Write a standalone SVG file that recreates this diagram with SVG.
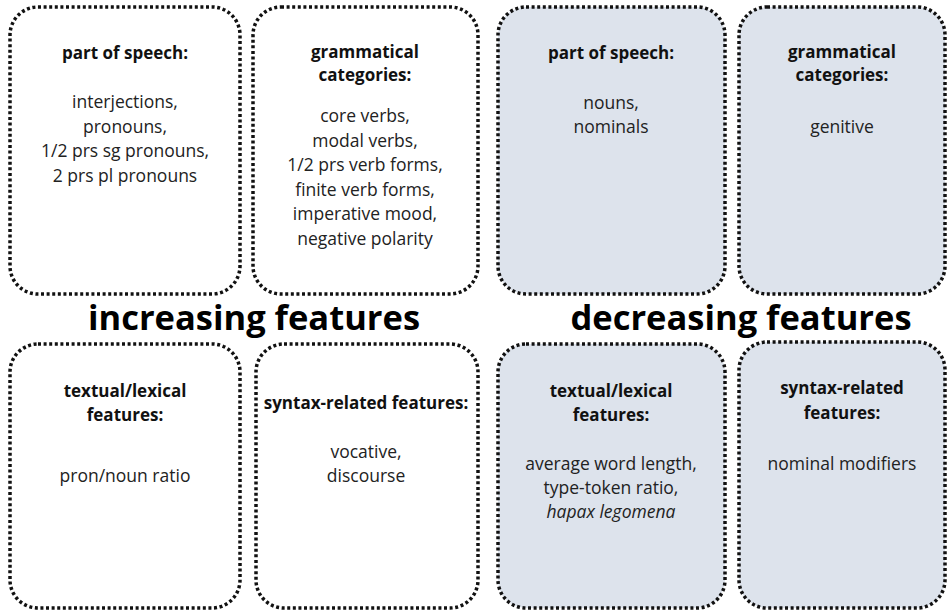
<svg xmlns="http://www.w3.org/2000/svg" width="947" height="614" viewBox="0 0 947 614">
<style>
.box{fill:#ffffff;stroke:#111111;stroke-width:3.5;stroke-dasharray:3 2.6}
.dec{fill:#dde3ec}
.t{font-family:"Open Sans","Noto Sans",sans-serif;font-size:17px;font-weight:bold;fill:#111111;text-anchor:middle}
.b{font-family:"Open Sans","Noto Sans",sans-serif;font-size:17.5px;fill:#222222;text-anchor:middle}
.h{font-family:"Open Sans","Noto Sans",sans-serif;font-size:34.5px;font-weight:bold;fill:#000000;text-anchor:middle}
</style>
<rect width="947" height="614" fill="#ffffff"/>
<g id="inc-pos">
<rect class="box" x="10" y="7" width="230" height="287" rx="28"/>
<text class="t" x="125" y="59">part of speech:</text>
<text class="b" x="125" y="108">interjections,</text>
<text class="b" x="125" y="132.5">pronouns,</text>
<text class="b" x="125" y="157">1/2 prs sg pronouns,</text>
<text class="b" x="125" y="181.5">2 prs pl pronouns</text>
</g>
<g id="inc-gram">
<rect class="box" x="253" y="7" width="225" height="287" rx="28"/>
<text class="t" x="365" y="58">grammatical</text>
<text class="t" x="365" y="81">categories:</text>
<text class="b" x="365" y="122">core verbs,</text>
<text class="b" x="365" y="146.5">modal verbs,</text>
<text class="b" x="365" y="171">1/2 prs verb forms,</text>
<text class="b" x="365" y="195.5">finite verb forms,</text>
<text class="b" x="365" y="220">imperative mood,</text>
<text class="b" x="365" y="244.5">negative polarity</text>
</g>
<g id="dec-pos">
<rect class="box dec" x="498" y="7" width="227" height="287" rx="28"/>
<text class="t" x="611" y="59">part of speech:</text>
<text class="b" x="611" y="109">nouns,</text>
<text class="b" x="611" y="133">nominals</text>
</g>
<g id="dec-gram">
<rect class="box dec" x="739" y="7" width="206" height="287" rx="28"/>
<text class="t" x="842" y="58">grammatical</text>
<text class="t" x="842" y="81">categories:</text>
<text class="b" x="842" y="133">genitive</text>
</g>
<text class="h" x="254" y="330">increasing features</text>
<text class="h" x="741" y="330">decreasing features</text>
<g id="inc-text">
<rect class="box" x="10" y="344" width="230" height="264" rx="28"/>
<text class="t" x="125" y="397">textual/lexical</text>
<text class="t" x="125" y="421">features:</text>
<text class="b" x="125" y="482">pron/noun ratio</text>
</g>
<g id="inc-syn">
<rect class="box" x="256" y="344" width="222" height="264" rx="28"/>
<text class="t" x="366" y="409">syntax-related features:</text>
<text class="b" x="366" y="458">vocative,</text>
<text class="b" x="366" y="482">discourse</text>
</g>
<g id="dec-text">
<rect class="box dec" x="498" y="344" width="227" height="264" rx="28"/>
<text class="t" x="611" y="397">textual/lexical</text>
<text class="t" x="611" y="421">features:</text>
<text class="b" x="611" y="470">average word length,</text>
<text class="b" x="611" y="494">type-token ratio,</text>
<text class="b" x="611" y="518" font-style="italic">hapax legomena</text>
</g>
<g id="dec-syn">
<rect class="box dec" x="739" y="342" width="206" height="266" rx="28"/>
<text class="t" x="842" y="394">syntax-related</text>
<text class="t" x="842" y="419">features:</text>
<text class="b" x="842" y="470">nominal modifiers</text>
</g>
<g id="connectors"></g>
</svg>
